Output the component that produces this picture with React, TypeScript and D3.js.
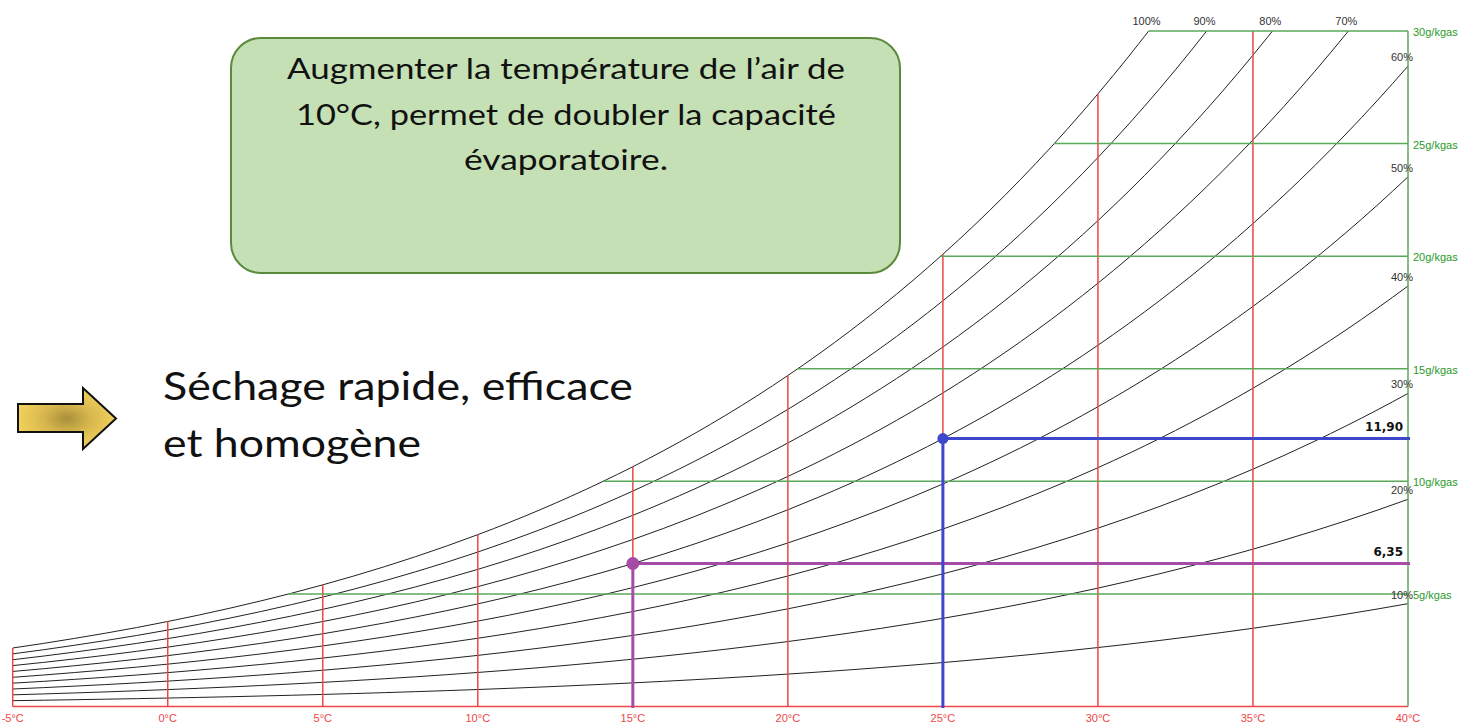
import React from "react";
import * as d3 from "d3";

// Temperatures (°C) and saturation vapour pressure over water (kPa)
const TEMPS = [-5,-4,-3,-2,-1,0,1,2,3,4,5,6,7,8,9,10,11,12,13,14,15,16,17,18,19,20,21,22,23,24,25,26,27,28,29,30,31,32,33,34,35,36,37,38,39,40];
const SVP = [0.4215,0.4547,0.4904,0.5279,0.5681,0.6112,0.6571,0.7060,0.7581,0.8135,0.8726,0.9354,1.0021,1.0730,1.1482,1.2282,1.3129,1.4028,1.4981,1.5989,1.7057,1.8188,1.9383,2.0647,2.1982,2.3392,2.4881,2.6452,2.8109,2.9856,3.1697,3.3637,3.5679,3.7828,4.0089,4.2467,4.4966,4.7592,5.0351,5.3247,5.6286,5.9475,6.2818,6.6324,6.9997,7.3844];
const P_ATM = 101.325;

const RH_LEVELS = [10, 20, 30, 40, 50, 60, 70, 80, 90, 100];
const TEMP_TICKS = [-5, 0, 5, 10, 15, 20, 25, 30, 35, 40];
const TEMP_LABELS = ["-5°C", "0°C", "5°C", "10°C", "15°C", "20°C", "25°C", "30°C", "35°C", "40°C"];
const W_TICKS = [5, 10, 15, 20, 25, 30];
const W_LABELS = ["5g/kgas", "10g/kgas", "15g/kgas", "20g/kgas", "25g/kgas", "30g/kgas"];

const POINT_T = [15, 25];
const POINT_W = [6.35, 11.90];
const POINT_LABELS = ["6,35", "11,90"];
const POINT_COLORS = ["#a54ca6", "#3d47cc"];

const BOX_LINES = ["Augmenter la température de l’air de", "10°C, permet de doubler la capacité", "évaporatoire."];
const SIDE_LINES = ["Séchage rapide, efficace", "et homogène"];

const W_MAX = 30;

function wOf(p: number) {
  return (622 * p) / (P_ATM - p);
}

export default function App() {
  const x = d3.scaleLinear().domain([-5, 40]).range([12.7, 1408]);
  const y = d3.scaleLinear().domain([0, 30]).range([706.5, 31]);

  const curveData = RH_LEVELS.map((rh) =>
    TEMPS.map((t, i) => ({ t, w: wOf((rh / 100) * SVP[i]) }))
  );
  const line = d3
    .line<{ t: number; w: number }>()
    .x((d) => x(d.t))
    .y((d) => y(d.w))
    .curve(d3.curveMonotoneX);

  // temperature where a series reaches a given w (linear between table rows)
  const tAt = (pts: { t: number; w: number }[], w: number) => {
    for (let i = 0; i < pts.length - 1; i++) {
      if (pts[i].w <= w && pts[i + 1].w >= w) {
        const f = (w - pts[i].w) / (pts[i + 1].w - pts[i].w);
        return pts[i].t + f * (pts[i + 1].t - pts[i].t);
      }
    }
    return null;
  };
  const sat = curveData[curveData.length - 1];
  const wSatAt = (t: number) => sat[TEMPS.indexOf(t)].w;

  const red = "#ee4646";
  const green = "#5aaa5a";
  const greenText = "#2a9a2a";
  const smallFont = "'Liberation Sans', Arial, sans-serif";
  const bigFont = "Lato, 'Open Sans', sans-serif";

  return (
    <svg
      width={1472}
      height={727}
      style={{ position: "absolute", left: 0, top: 0, display: "block", background: "#fff" }}
    >
      <defs>
        <clipPath id="plot">
          <rect x={x(-5)} y={y(W_MAX)} width={x(40) - x(-5)} height={y(0) - y(W_MAX)} />
        </clipPath>
        <radialGradient id="gold" cx="50%" cy="50%" r="55%">
          <stop offset="0%" stopColor="#a88f3a" />
          <stop offset="45%" stopColor="#d8b84e" />
          <stop offset="100%" stopColor="#f5d55e" />
        </radialGradient>
      </defs>

      {/* RH curves */}
      <g clipPath="url(#plot)">
        {curveData.map((pts, k) => (
          <path key={k} d={line(pts) || ""} fill="none" stroke="#222" strokeWidth={1} />
        ))}
      </g>

      {/* red temperature lines */}
      {TEMP_TICKS.filter((t) => t < 40).map((t) => (
        <line
          key={t}
          x1={x(t)}
          x2={x(t)}
          y1={y(0)}
          y2={y(Math.min(wSatAt(t), W_MAX))}
          stroke={red}
          strokeWidth={1.5}
        />
      ))}
      <line x1={x(-5)} x2={x(40)} y1={y(0)} y2={y(0)} stroke={red} strokeWidth={1.5} />

      {/* green humidity lines */}
      {W_TICKS.map((w) => {
        const ts = tAt(sat, w) ?? -5;
        return (
          <line key={w} x1={x(ts)} x2={x(40)} y1={y(w)} y2={y(w)} stroke={green} strokeWidth={1.5} />
        );
      })}
      <line x1={x(40)} x2={x(40)} y1={y(W_MAX)} y2={y(0)} stroke={green} strokeWidth={1.5} />

      {/* RH labels */}
      {RH_LEVELS.map((rh, k) => {
        const pts = curveData[k];
        const wEnd = pts[pts.length - 1].w;
        if (wEnd > W_MAX) {
          const tt = tAt(pts, W_MAX) ?? 40;
          return (
            <text key={rh} x={x(tt) - 2} y={25} textAnchor="middle" fontFamily={smallFont} fontSize={11} fill="#333">
              {rh}%
            </text>
          );
        }
        return (
          <text key={rh} x={1413} y={y(wEnd) - 5} textAnchor="end" fontFamily={smallFont} fontSize={11} fill="#333">
            {rh}%
          </text>
        );
      })}

      {/* w labels */}
      {W_TICKS.map((w, i) => (
        <text key={w} x={1413} y={y(w) + 5} fontFamily={smallFont} fontSize={11} fill={greenText}>
          {W_LABELS[i]}
        </text>
      ))}

      {/* temperature labels */}
      {TEMP_TICKS.map((t, i) => (
        <text key={t} x={x(t)} y={722} textAnchor="middle" fontFamily={smallFont} fontSize={11} fill={red}>
          {TEMP_LABELS[i]}
        </text>
      ))}

      {/* highlighted points */}
      {POINT_T.map((t, i) => (
        <g key={t}>
          <line x1={x(t)} x2={x(40) + 2} y1={y(POINT_W[i])} y2={y(POINT_W[i])} stroke={POINT_COLORS[i]} strokeWidth={3} />
          <line x1={x(t)} x2={x(t)} y1={y(POINT_W[i])} y2={708} stroke={POINT_COLORS[i]} strokeWidth={3} />
          <circle cx={x(t)} cy={y(POINT_W[i])} r={i === 0 ? 6.5 : 5.5} fill={POINT_COLORS[i]} />
          <text
            x={1403}
            y={y(POINT_W[i]) - 8}
            textAnchor="end"
            fontFamily="'DejaVu Sans', sans-serif"
            fontWeight="bold"
            fontSize={12}
            fill="#111"
          >
            {POINT_LABELS[i]}
          </text>
        </g>
      ))}

      {/* text box */}
      <rect x={231} y={38} width={669} height={235} rx={30} ry={30} fill="#c5e0b4" stroke="#5b8a3c" strokeWidth={2} />
      {BOX_LINES.map((s, i) => (
        <text
          key={i}
          x={566}
          y={79 + i * 45.5}
          textAnchor="middle"
          fontFamily={bigFont}
          fontSize={28}
          fill="#111"
          textLength={[558, 540, 204][i]}
          lengthAdjust="spacingAndGlyphs"
        >
          {s}
        </text>
      ))}

      {/* arrow */}
      <path
        d="M18,404 L83,404 L83,388 L116,418.5 L83,449 L83,432 L18,432 Z"
        fill="url(#gold)"
        stroke="#111"
        strokeWidth={2}
        strokeLinejoin="miter"
      />

      {SIDE_LINES.map((s, i) => (
        <text
          key={i}
          x={163}
          y={400 + i * 57}
          fontFamily={bigFont}
          fontSize={38}
          fill="#111"
          textLength={[470, 258][i]}
          lengthAdjust="spacingAndGlyphs"
        >
          {s}
        </text>
      ))}
    </svg>
  );
}
